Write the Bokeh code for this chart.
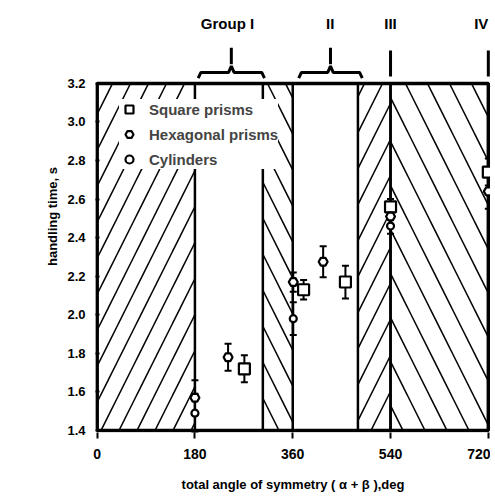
from bokeh.plotting import figure
from bokeh.models import (ColumnDataSource, Whisker, TeeHead, FixedTicker,
                          PrintfTickFormatter, Legend, LegendItem, Range1d)
from bokeh.embed import file_html
from bokeh.resources import INLINE
from bokeh.core.properties import value

# ---------------- data ----------------
x_ticks = [0, 180, 360, 540, 720]
y_ticks = [1.4, 1.6, 1.8, 2.0, 2.2, 2.4, 2.6, 2.8, 3.0, 3.2]

square_angle = [271, 380, 457, 540, 720]
square_time = [1.72, 2.13, 2.17, 2.56, 2.74]
square_err = [0.07, 0.05, 0.085, 0.04, 0.07]

hex_angle = [180, 241, 361, 416, 540, 720]
hex_time = [1.57, 1.78, 2.17, 2.275, 2.51, 2.64]
hex_err = [0.09, 0.07, 0.05, 0.08, 0.04, 0.09]

cyl_angle = [180, 361, 540]
cyl_time = [1.49, 1.98, 2.46]
cyl_err = [0.10, 0.085, 0.04]

zone_left = [0, 305, 480, 540]
zone_right = [180, 360, 540, 720]
zone_hatch = ["/", "\\", "/", "\\"]
zone_spacing = [36, 36, 36, 44]

group_labels = ["Group I", "II", "III", "IV"]
group_label_x = [240, 429, 540, 720]
group_label_align = ["center", "center", "center", "right"]
group_start = [186, 371, 540, 720]
group_end = [308, 488, 540, 720]

# ---------------- styling constants ----------------
FONT = "Liberation Sans"
y_lo, y_hi = y_ticks[0], y_ticks[-1]

p = figure(width=490, height=496,
           x_range=Range1d(-3, 724), y_range=Range1d(1.3896, 3.63),
           output_backend="svg", toolbar_location=None,
           min_border_left=95, min_border_right=0,
           min_border_top=0, min_border_bottom=64)
p.outline_line_color = None
p.xgrid.visible = False
p.ygrid.visible = False

# hatched zones
zsrc = ColumnDataSource(dict(left=zone_left, right=zone_right,
                             bottom=[y_lo] * len(zone_left),
                             top=[y_hi] * len(zone_left),
                             hatch=zone_hatch, sc=zone_spacing))
p.quad(left="left", right="right", bottom="bottom", top="top", source=zsrc,
       fill_color=None, line_color="black", line_width=2.5,
       hatch_pattern="hatch", hatch_color="black", hatch_scale="sc",
       hatch_weight=1.5)

# frame box
p.quad(left=[x_ticks[0]], right=[x_ticks[-1]], bottom=[y_lo], top=[y_hi],
       fill_color=None, line_color="black", line_width=3.5)

# error bars + markers
def series(xs, ys, es, marker, size):
    src = ColumnDataSource(dict(x=xs, y=ys,
                                lo=[a - b for a, b in zip(ys, es)],
                                hi=[a + b for a, b in zip(ys, es)]))
    w = Whisker(source=src, base="x", lower="lo", upper="hi",
                dimension="height", line_color="black", line_width=2,
                upper_head=TeeHead(size=7, line_width=2, line_color="black"),
                lower_head=TeeHead(size=7, line_width=2, line_color="black"))
    p.add_layout(w)
    r = p.scatter("x", "y", source=src, marker=marker, size=size,
                  fill_color="white", line_color="black", line_width=2.2)
    return r

r_sq = series(square_angle, square_time, square_err, "square", 11)
r_hex = series(hex_angle, hex_time, hex_err, "hex", 9)
r_cyl = series(cyl_angle, cyl_time, cyl_err, "circle", 7)

# group annotations above the frame
base_y, bar_y, tip_y = 3.227, 3.257, 3.29
stem_lo, stem_hi = 3.30, 3.385
xs_list, ys_list = [], []
vx, vy0, vy1 = [], [], []
for s, e in zip(group_start, group_end):
    c = (s + e) / 2
    if e > s:
        xs_list.append([s, s + 5, c - 5, c, c + 5, e - 5, e])
        ys_list.append([base_y, bar_y, bar_y, tip_y, bar_y, bar_y, base_y])
        vx.append(c); vy0.append(stem_lo); vy1.append(stem_hi)
    else:
        vx.append(c); vy0.append(3.236); vy1.append(3.371)
p.multi_line(xs=xs_list, ys=ys_list, line_color="black", line_width=3)
p.segment(x0=vx, y0=vy0, x1=vx, y1=vy1, line_color="black", line_width=3)
tsrc = ColumnDataSource(dict(x=group_label_x, y=[3.511] * len(group_labels),
                             t=group_labels, a=group_label_align))
p.text(x="x", y="y", text="t", text_align="a", source=tsrc,
       text_baseline="middle",
       text_font=value(FONT), text_font_style="bold", text_font_size="15px",
       text_color="black")

# legend
legend = Legend(items=[LegendItem(label="Square prisms", renderers=[r_sq]),
                       LegendItem(label="Hexagonal prisms", renderers=[r_hex]),
                       LegendItem(label="Cylinders", renderers=[r_cyl])],
                location=(24, 263))
legend.label_text_font = FONT
legend.label_text_font_style = "bold"
legend.label_text_font_size = "15px"
legend.background_fill_color = "white"
legend.background_fill_alpha = 1.0
legend.border_line_color = None
legend.padding = 4
legend.spacing = 5
legend.glyph_width = 20
legend.glyph_height = 20
legend.label_height = 20
legend.label_standoff = 10
legend.margin = 0
p.add_layout(legend)

# axes
p.xaxis.ticker = FixedTicker(ticks=x_ticks)
p.yaxis.ticker = FixedTicker(ticks=y_ticks)
p.yaxis.formatter = PrintfTickFormatter(format="%.1f")
for ax in (p.xaxis, p.yaxis):
    ax.axis_line_color = None
    ax.minor_tick_line_color = None
    ax.major_tick_line_color = "black"
    ax.major_tick_line_width = 2
    ax.major_label_text_font = FONT
    ax.major_label_text_font_style = "bold"
    ax.major_label_text_color = "black"
    ax.axis_label_text_font = FONT
    ax.axis_label_text_font_style = "bold"
    ax.axis_label_text_color = "black"
p.xaxis.major_label_text_font_size = "14px"
p.yaxis.major_label_text_font_size = "13px"
p.xaxis.major_tick_in = 0
p.xaxis.major_tick_out = 6
p.xaxis.major_label_standoff = 10
p.xaxis.axis_label = "total angle of symmetry ( \u03b1 + \u03b2 ),deg"
p.xaxis.axis_label_text_font_size = "13px"
p.xaxis.axis_label_standoff = 15
p.yaxis.major_tick_in = 4
p.yaxis.major_tick_out = 0
p.yaxis.major_label_standoff = 10
p.yaxis.axis_label = "handling time, s"
p.yaxis.axis_label_text_font_size = "13px"
p.yaxis.axis_label_standoff = 4

open("out.html", "w").write(file_html(p, INLINE))
